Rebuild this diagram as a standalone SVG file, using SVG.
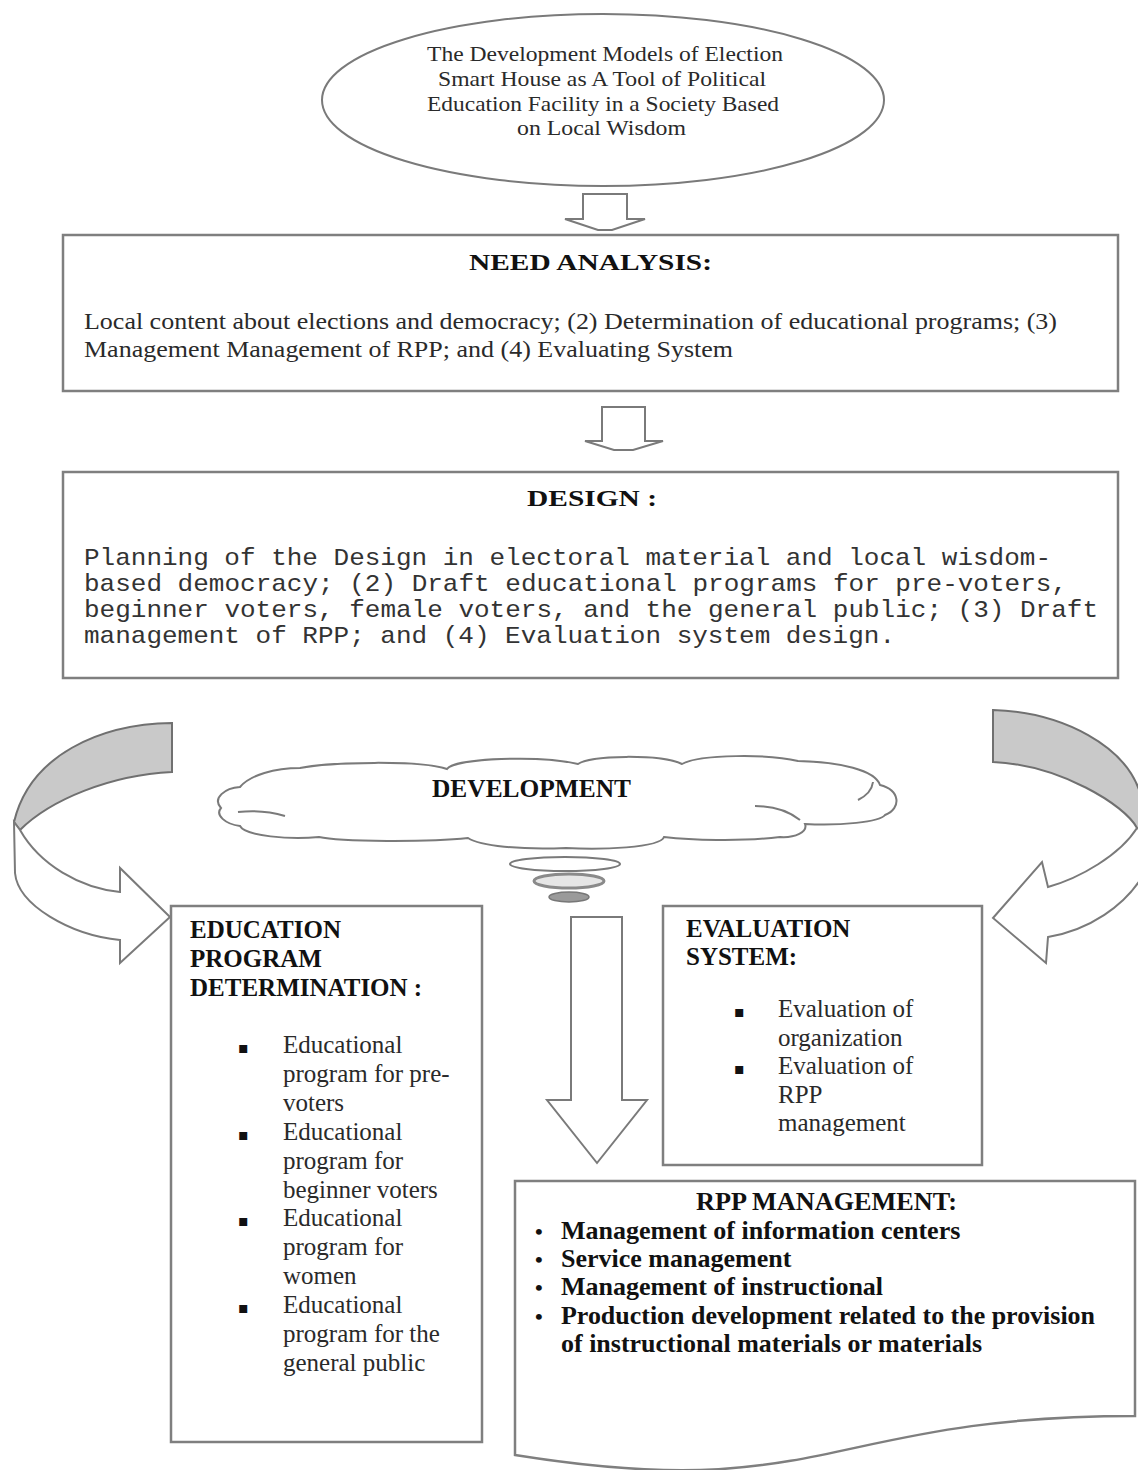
<svg xmlns="http://www.w3.org/2000/svg" width="1138" height="1470" viewBox="0 0 1138 1470">
<style>
  .box { fill: #fff; stroke: #7f7f7f; stroke-width: 2.5; }
  .shape { fill: #fff; stroke: #7a7a7a; stroke-width: 2; }
  .band { fill: #c9c9c9; stroke: #707070; stroke-width: 2; }
  .serif { font-family: "Liberation Serif", "Times New Roman", serif; fill: #2a2a2a; }
  .title { font-family: "Liberation Serif", "Times New Roman", serif; font-weight: bold; fill: #111; }
  .mono { font-family: "Liberation Mono", "Courier New", monospace; fill: #333; }
  .bul { font-family: "DejaVu Sans", sans-serif; fill: #111; }
</style>
<rect width="1138" height="1470" fill="#fff"/>

<g id="connectors">
  <polygon id="arrow-title-need" class="shape" points="583,194 627,194 627,219 645,219 612,230 598,230 565,219 583,219"/>
  <polygon id="arrow-need-design" class="shape" points="602,407 645,407 645,441 663,441 633,450 614,450 585,441 602,441"/>
  <polygon id="arrow-dev-rpp" class="shape" points="571,917 622,917 622,1100 647,1100 597,1163 547,1100 571,1100"/>
  <g id="curved-left">
    <path class="band" d="M172,723 C100,724 30,755 14,822 L20,830 C50,800 110,775 172,772 Z"/>
    <path class="shape" d="M14,822 L15,873 C18,905 70,935 120,940 L120,963 L170,917 L120,868 L120,892 C80,888 40,865 20,830 Z"/>
  </g>
  <g id="curved-right">
    <path class="band" d="M993,710 C1060,712 1130,745 1142,800 L1142,828 L1137,828 C1125,805 1060,765 993,762 Z"/>
    <path class="shape" d="M1137,828 L1142,830 L1142,877 C1125,905 1090,930 1048,937 L1046,963 L993,918 L1042,862 L1048,887 C1080,878 1120,855 1137,828 Z"/>
  </g>
</g>

<g id="node-title">
  <ellipse class="shape" cx="603" cy="100" rx="281" ry="86"/>
  <text class="serif" font-size="21" x="427" y="61" textLength="356" lengthAdjust="spacingAndGlyphs">The Development Models of Election</text>
  <text class="serif" font-size="21" x="438" y="86" textLength="328" lengthAdjust="spacingAndGlyphs">Smart House as A Tool of Political</text>
  <text class="serif" font-size="21" x="427" y="111" textLength="352" lengthAdjust="spacingAndGlyphs">Education Facility in a Society Based</text>
  <text class="serif" font-size="21" x="517" y="135" textLength="169" lengthAdjust="spacingAndGlyphs">on Local Wisdom</text>
</g>

<g id="node-need">
  <rect class="box" x="63" y="235" width="1055" height="156" stroke-width="3"/>
  <text class="title" font-size="23" x="469" y="270" textLength="243" lengthAdjust="spacingAndGlyphs">NEED ANALYSIS:</text>
  <text class="serif" font-size="24" x="84" y="329" textLength="973" lengthAdjust="spacingAndGlyphs">Local content about elections and democracy; (2) Determination of educational programs; (3)</text>
  <text class="serif" font-size="24" x="84" y="357" textLength="649" lengthAdjust="spacingAndGlyphs">Management Management of RPP; and (4) Evaluating System</text>
</g>

<g id="node-design">
  <rect class="box" x="63" y="472" width="1055" height="206" stroke-width="3"/>
  <text class="title" font-size="23" x="527" y="506" textLength="130" lengthAdjust="spacingAndGlyphs">DESIGN :</text>
  <text class="mono" font-size="24" x="84" y="565" textLength="967" lengthAdjust="spacingAndGlyphs">Planning of the Design in electoral material and local wisdom-</text>
  <text class="mono" font-size="24" x="84" y="591" textLength="983" lengthAdjust="spacingAndGlyphs">based democracy; (2) Draft educational programs for pre-voters,</text>
  <text class="mono" font-size="24" x="84" y="617" textLength="1014" lengthAdjust="spacingAndGlyphs">beginner voters, female voters, and the general public; (3) Draft</text>
  <text class="mono" font-size="24" x="84" y="643" textLength="811" lengthAdjust="spacingAndGlyphs">management of RPP; and (4) Evaluation system design.</text>
</g>

<g id="node-development">
  <path class="shape" d="M221,808 C212,798 225,788 240,787 C250,775 275,768 300,768 C330,762 420,760 447,769 C455,758 540,755 578,764 C590,755 660,754 682,764 C700,754 770,754 798,761 C840,762 875,770 880,785 C900,790 902,808 885,815 C880,822 840,826 805,824 C808,832 795,838 780,837 C740,842 690,840 664,837 C660,848 600,850 566,848 C520,850 480,846 468,838 C430,842 340,842 319,837 C290,840 245,836 240,826 C225,824 215,815 221,808 Z"/>
  <path d="M238,812 C255,810 272,812 285,816 M755,806 C775,806 790,812 800,820 M858,800 C866,796 872,790 873,782" fill="none" stroke="#7a7a7a" stroke-width="2"/>
  <ellipse cx="565" cy="864" rx="55" ry="7" fill="#fff" stroke="#7a7a7a" stroke-width="2"/>
  <ellipse cx="569" cy="881" rx="35" ry="7" fill="#e6e6e6" stroke="#8a8a8a" stroke-width="3"/>
  <ellipse cx="569" cy="897" rx="20" ry="5" fill="#9a9a9a" stroke="#777" stroke-width="1.5"/>
  <text class="title" font-size="25" x="432" y="797" textLength="199" lengthAdjust="spacingAndGlyphs">DEVELOPMENT</text>
</g>

<g id="node-education">
  <rect class="box" x="171" y="906" width="311" height="536"/>
  <text class="title" font-size="25" x="190" y="938">EDUCATION</text>
  <text class="title" font-size="25" x="190" y="967">PROGRAM</text>
  <text class="title" font-size="25" x="190" y="996">DETERMINATION :</text>
  <text class="bul" font-size="16" x="238" y="1053">▪</text>
  <text class="bul" font-size="16" x="238" y="1140">▪</text>
  <text class="bul" font-size="16" x="238" y="1226">▪</text>
  <text class="bul" font-size="16" x="238" y="1313">▪</text>
  <text class="serif" font-size="25" x="283" y="1053">Educational</text>
  <text class="serif" font-size="25" x="283" y="1082">program for pre-</text>
  <text class="serif" font-size="25" x="283" y="1111">voters</text>
  <text class="serif" font-size="25" x="283" y="1140">Educational</text>
  <text class="serif" font-size="25" x="283" y="1169">program for</text>
  <text class="serif" font-size="25" x="283" y="1198">beginner voters</text>
  <text class="serif" font-size="25" x="283" y="1226">Educational</text>
  <text class="serif" font-size="25" x="283" y="1255">program for</text>
  <text class="serif" font-size="25" x="283" y="1284">women</text>
  <text class="serif" font-size="25" x="283" y="1313">Educational</text>
  <text class="serif" font-size="25" x="283" y="1342">program for the</text>
  <text class="serif" font-size="25" x="283" y="1371">general public</text>
</g>

<g id="node-evaluation">
  <rect class="box" x="663" y="906" width="319" height="259"/>
  <text class="title" font-size="25" x="686" y="937">EVALUATION</text>
  <text class="title" font-size="25" x="686" y="965">SYSTEM:</text>
  <text class="bul" font-size="16" x="734" y="1017">▪</text>
  <text class="bul" font-size="16" x="734" y="1074">▪</text>
  <text class="serif" font-size="25" x="778" y="1017">Evaluation of</text>
  <text class="serif" font-size="25" x="778" y="1046">organization</text>
  <text class="serif" font-size="25" x="778" y="1074">Evaluation of</text>
  <text class="serif" font-size="25" x="778" y="1103">RPP</text>
  <text class="serif" font-size="25" x="778" y="1131">management</text>
</g>

<g id="node-rpp">
  <path class="box" d="M515,1181 L1135,1181 L1135,1416 C825,1416 825,1505 515,1455 Z"/>
  <text class="title" font-size="26" x="696" y="1210" textLength="261" lengthAdjust="spacingAndGlyphs">RPP MANAGEMENT:</text>
  <text class="title" font-size="22" x="535" y="1239">•</text>
  <text class="title" font-size="22" x="535" y="1267">•</text>
  <text class="title" font-size="22" x="535" y="1295">•</text>
  <text class="title" font-size="22" x="535" y="1324">•</text>
  <text class="title" font-size="26" x="561" y="1239">Management of information centers</text>
  <text class="title" font-size="26" x="561" y="1267">Service management</text>
  <text class="title" font-size="26" x="561" y="1295">Management of instructional</text>
  <text class="title" font-size="26" x="561" y="1324" textLength="534" lengthAdjust="spacingAndGlyphs">Production development related to the provision</text>
  <text class="title" font-size="26" x="561" y="1352" textLength="421" lengthAdjust="spacingAndGlyphs">of instructional materials or materials</text>
</g>
</svg>
